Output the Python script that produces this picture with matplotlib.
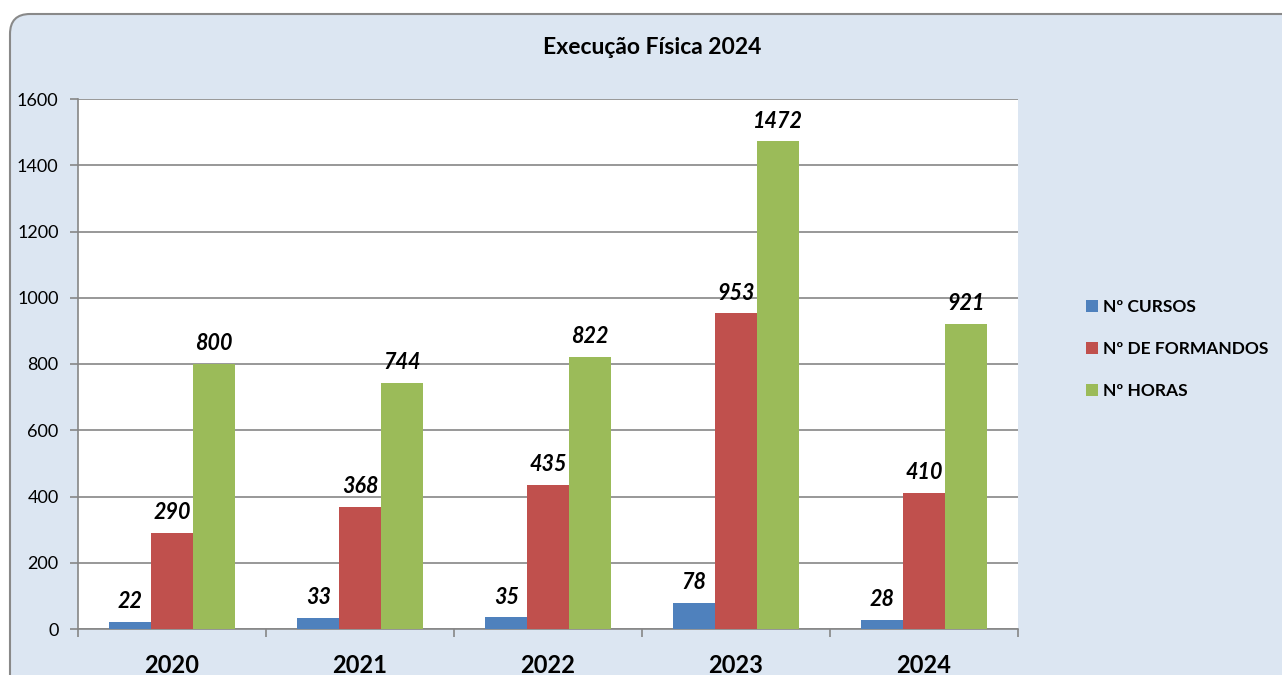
import matplotlib.pyplot as plt
import numpy as np
from matplotlib.patches import FancyBboxPatch

years = ['2020', '2021', '2022', '2023', '2024']
series = ['Nº CURSOS', 'Nº DE FORMANDOS', 'Nº HORAS']
cursos = [22, 33, 35, 78, 28]
formandos = [290, 368, 435, 953, 410]
horas = [800, 744, 822, 1472, 921]
colors = ['#4f81bd', '#c0504d', '#9bbb59']

plt.rcParams['font.family'] = ['Lato', 'DejaVu Sans']

W, H = 1282, 675
fig = plt.figure(figsize=(W / 100, H / 100), dpi=100)
fig.patch.set_facecolor('white')

# rounded chart background
bg = FancyBboxPatch((10 / W, -20 / H), 1300 / W, (675 - 14 + 20) / H,
                    boxstyle='round,pad=0,rounding_size=0.0156',
                    transform=fig.transFigure, facecolor='#dce6f2',
                    edgecolor='#898989', linewidth=1.5, zorder=-5,
                    mutation_aspect=W / H)
fig.patches.append(bg)

ax = fig.add_axes([78 / W, (H - 629) / H, 940 / W, 530 / H])
ax.set_zorder(2)
ax.set_facecolor('white')

x = np.arange(len(years))
bw = 1 / 4.5
for i, (vals, c, name) in enumerate(zip([cursos, formandos, horas], colors, series)):
    pos = x + (i - 1) * bw
    ax.bar(pos, vals, width=bw, color=c, label=name, zorder=3, linewidth=0)
    for p, v in zip(pos, vals):
        ax.annotate(str(v), (p, v), xytext=(0, 7), textcoords='offset points',
                    ha='center', va='bottom', fontsize=15.5,
                    fontweight='bold', fontstyle='italic', color='black')

ax.set_xlim(-0.5, len(years) - 0.5)
ax.set_ylim(0, 1600)
ax.set_yticks(range(0, 1601, 200))
ax.yaxis.grid(True, color='#868686', linewidth=1.2, zorder=0)
ax.set_axisbelow(True)

ax.set_xticks(np.arange(-0.5, len(years), 1))
ax.set_xticklabels([])
ax.set_xticks(x, minor=True)
ax.set_xticklabels(years, minor=True, fontsize=17, fontweight='bold')
ax.tick_params(axis='x', which='minor', length=0, pad=18)
ax.tick_params(axis='x', which='major', length=6, color='#868686', width=1.2)
ax.tick_params(axis='y', length=6, color='#868686', width=1.2, labelsize=13, pad=8)

for s in ['top', 'right']:
    ax.spines[s].set_visible(False)
for s in ['left', 'bottom']:
    ax.spines[s].set_color('#868686')
    ax.spines[s].set_linewidth(1.2)

fig.text(652 / W, 1 - 47 / H, 'Execução Física 2024', ha='center', va='center',
         fontsize=16.5, fontweight='bold')

leg = fig.legend(loc='center left', bbox_to_anchor=(1070 / W, 1 - 349 / H),
                 frameon=False, prop={'weight': 'bold', 'size': 12.5},
                 handlelength=0.7, handleheight=0.7, handletextpad=0.3,
                 labelspacing=1.5)

fig.savefig('out.png', dpi=100, facecolor='white')
